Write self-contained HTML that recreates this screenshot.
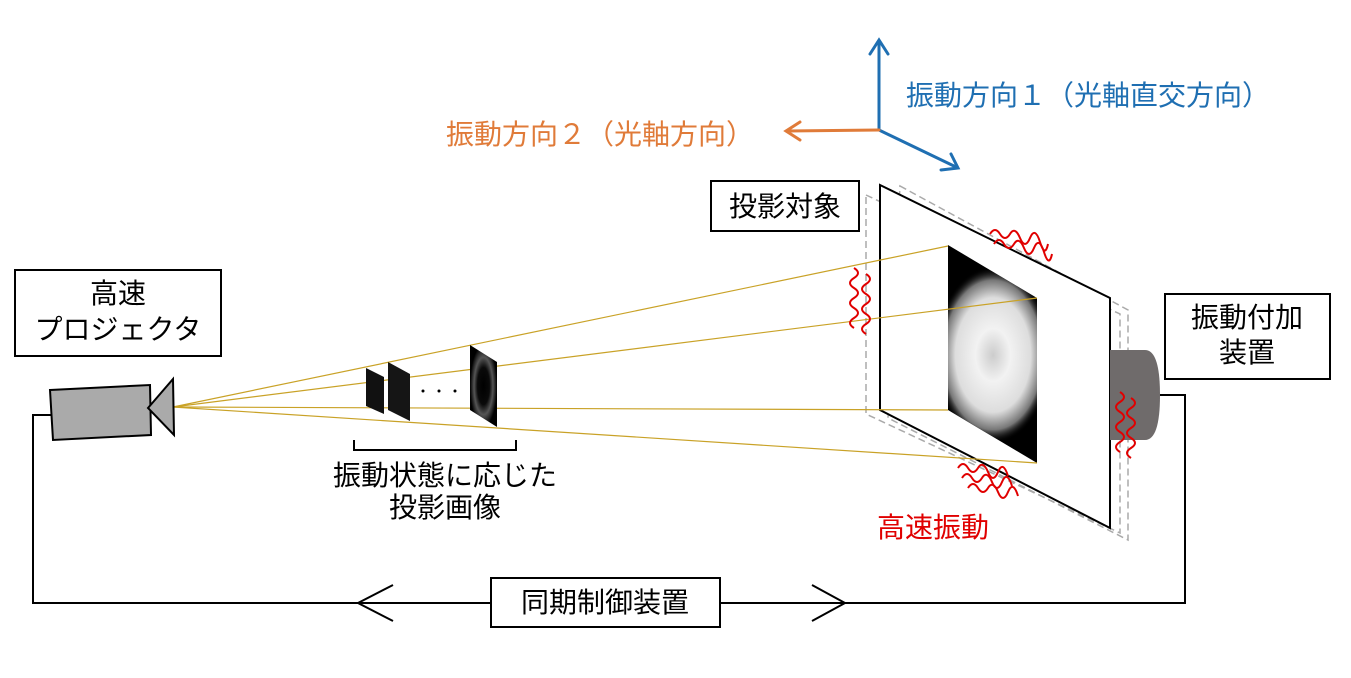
<!DOCTYPE html>
<html><head><meta charset="utf-8"><style>
body{margin:0;background:#fff;width:1351px;height:673px;overflow:hidden}
text{font-family:"Liberation Sans","Noto Sans CJK JP",sans-serif}
</style></head><body>
<svg width="1351" height="673" viewBox="0 0 1351 673" xmlns="http://www.w3.org/2000/svg">
<defs>
<radialGradient id="fur" cx="50%" cy="50%" r="50%">
<stop offset="0" stop-color="#ccc"/><stop offset="0.3" stop-color="#f2f2f2"/><stop offset="0.65" stop-color="#ddd"/><stop offset="0.85" stop-color="#777"/><stop offset="1" stop-color="#000" stop-opacity="0"/>
</radialGradient>
<radialGradient id="ring" cx="50%" cy="50%" r="50%">
<stop offset="0" stop-color="#000"/><stop offset="0.45" stop-color="#0a0a0a"/><stop offset="0.7" stop-color="#555"/><stop offset="1" stop-color="#000"/>
</radialGradient>
<clipPath id="img"><polygon points="948,245 1037,298 1037,463 948,410"/></clipPath>
</defs>
<g stroke-width="3" fill="none" stroke-linecap="round">
<path d="M879,130 V42 M870,54 L879,40 L888,54" stroke="#1f6fb2"/>
<path d="M879,130 L956,167 M941,170 L958,168 L951,154" stroke="#1f6fb2"/>
<path d="M879,130 L787,131 M800,122 L786,131 L800,140" stroke="#e07b39"/>
</g>
<text x="906" y="105" font-size="28" fill="#1f6fb2">振動方向１（光軸直交方向）</text>
<text x="446" y="144" font-size="28" fill="#e07b39">振動方向２（光軸方向）</text>
<g fill="none" stroke="#aaa" stroke-width="1.5" stroke-dasharray="7,4">
<polygon points="866,195 1120,314 1120,533 866,414"/>
<polygon points="900,186 1128,310 1128,540 888,418"/>
</g>
<polygon points="880,185 1110,298 1110,528 880,410" fill="#fff" stroke="#000" stroke-width="2"/>
<polygon points="948,245 1037,298 1037,463 948,410" fill="#000"/>
<g clip-path="url(#img)">
<ellipse cx="993" cy="355" rx="58" ry="88" fill="url(#fur)"/>
</g>
<path d="M1110,350 H1145 Q1160,350 1160,395 Q1160,440 1145,440 H1110 Z" fill="#6f6b6b"/>
<g stroke="#c9a227" stroke-width="1.2">
<line x1="173" y1="407" x2="948" y2="246"/>
<line x1="173" y1="407" x2="1037" y2="298"/>
<line x1="173" y1="407" x2="948" y2="410"/>
<line x1="173" y1="407" x2="1037" y2="463"/>
</g>
<polygon points="366,368 384,377 384,414 366,406" fill="#111"/>
<polygon points="388,362 410,374 410,421 388,410" fill="#151515"/>
<polygon points="470,345 497,362 497,427 470,410" fill="url(#ring)"/>
<g fill="#000"><circle cx="423" cy="391" r="1.5"/><circle cx="439" cy="391" r="1.5"/><circle cx="455" cy="391" r="1.5"/></g>
<path d="M354,440 V450 H516 V440" fill="none" stroke="#000" stroke-width="2"/>
<text x="445" y="485" font-size="28" text-anchor="middle">振動状態に応じた</text>
<text x="445" y="517" font-size="28" text-anchor="middle">投影画像</text>
<polygon points="50,390 150,385 151,435 53,440" fill="#aaa" stroke="#000" stroke-width="2"/>
<polygon points="148,408 173,379 174,435" fill="#aaa" stroke="#000" stroke-width="2"/>
<g fill="none" stroke="#000" stroke-width="2">
<path d="M52,415 H33 V603 H491"/>
<path d="M720,603 H1185 V395 H1160"/>
<path d="M393,585 L358,603 L393,621"/>
<path d="M812,585 L845,603 L812,621"/>
</g>
<g fill="#fff" stroke="#000" stroke-width="2">
<rect x="15" y="270" width="206" height="86"/>
<rect x="711" y="181" width="148" height="50"/>
<rect x="1165" y="294" width="165" height="85"/>
<rect x="491" y="578" width="229" height="49"/>
</g>
<g font-size="28" text-anchor="middle">
<text x="118" y="303">高速</text>
<text x="118" y="339">プロジェクタ</text>
<text x="785" y="216">投影対象</text>
<text x="1247" y="327">振動付加</text>
<text x="1247" y="362">装置</text>
<text x="605" y="612">同期制御装置</text>
</g>
<text x="877" y="537" font-size="28" fill="#e00000">高速振動</text>
<g fill="none" stroke="#e00000" stroke-width="2">
<path d="M854,268 q8,5 0,10 t0,10 t0,10 t0,10 t0,10 t0,10"/>
<path d="M866,274 q8,5 0,10 t0,10 t0,10 t0,10 t0,10 t0,10"/>
<path d="M990,234 q5,-8 10,0 t10,0 t10,4 t10,0 t10,4 t8,2"/>
<path d="M994,244 q5,-8 10,0 t10,0 t10,4 t10,0 t10,4 t8,2"/>
<path d="M958,468 q5,-8 10,0 t10,0 t10,4 t10,0 t10,4"/>
<path d="M962,478 q5,-8 10,0 t10,0 t10,4 t10,0 t10,4"/>
<path d="M968,488 q5,-8 10,0 t10,0 t10,4 t10,0 t10,4"/>
<path d="M1120,392 q8,5 0,10 t0,10 t0,10 t0,10 t0,10 t0,10"/>
<path d="M1131,398 q8,5 0,10 t0,10 t0,10 t0,10 t0,10 t0,10"/>
</g>
</svg>
</body></html>
